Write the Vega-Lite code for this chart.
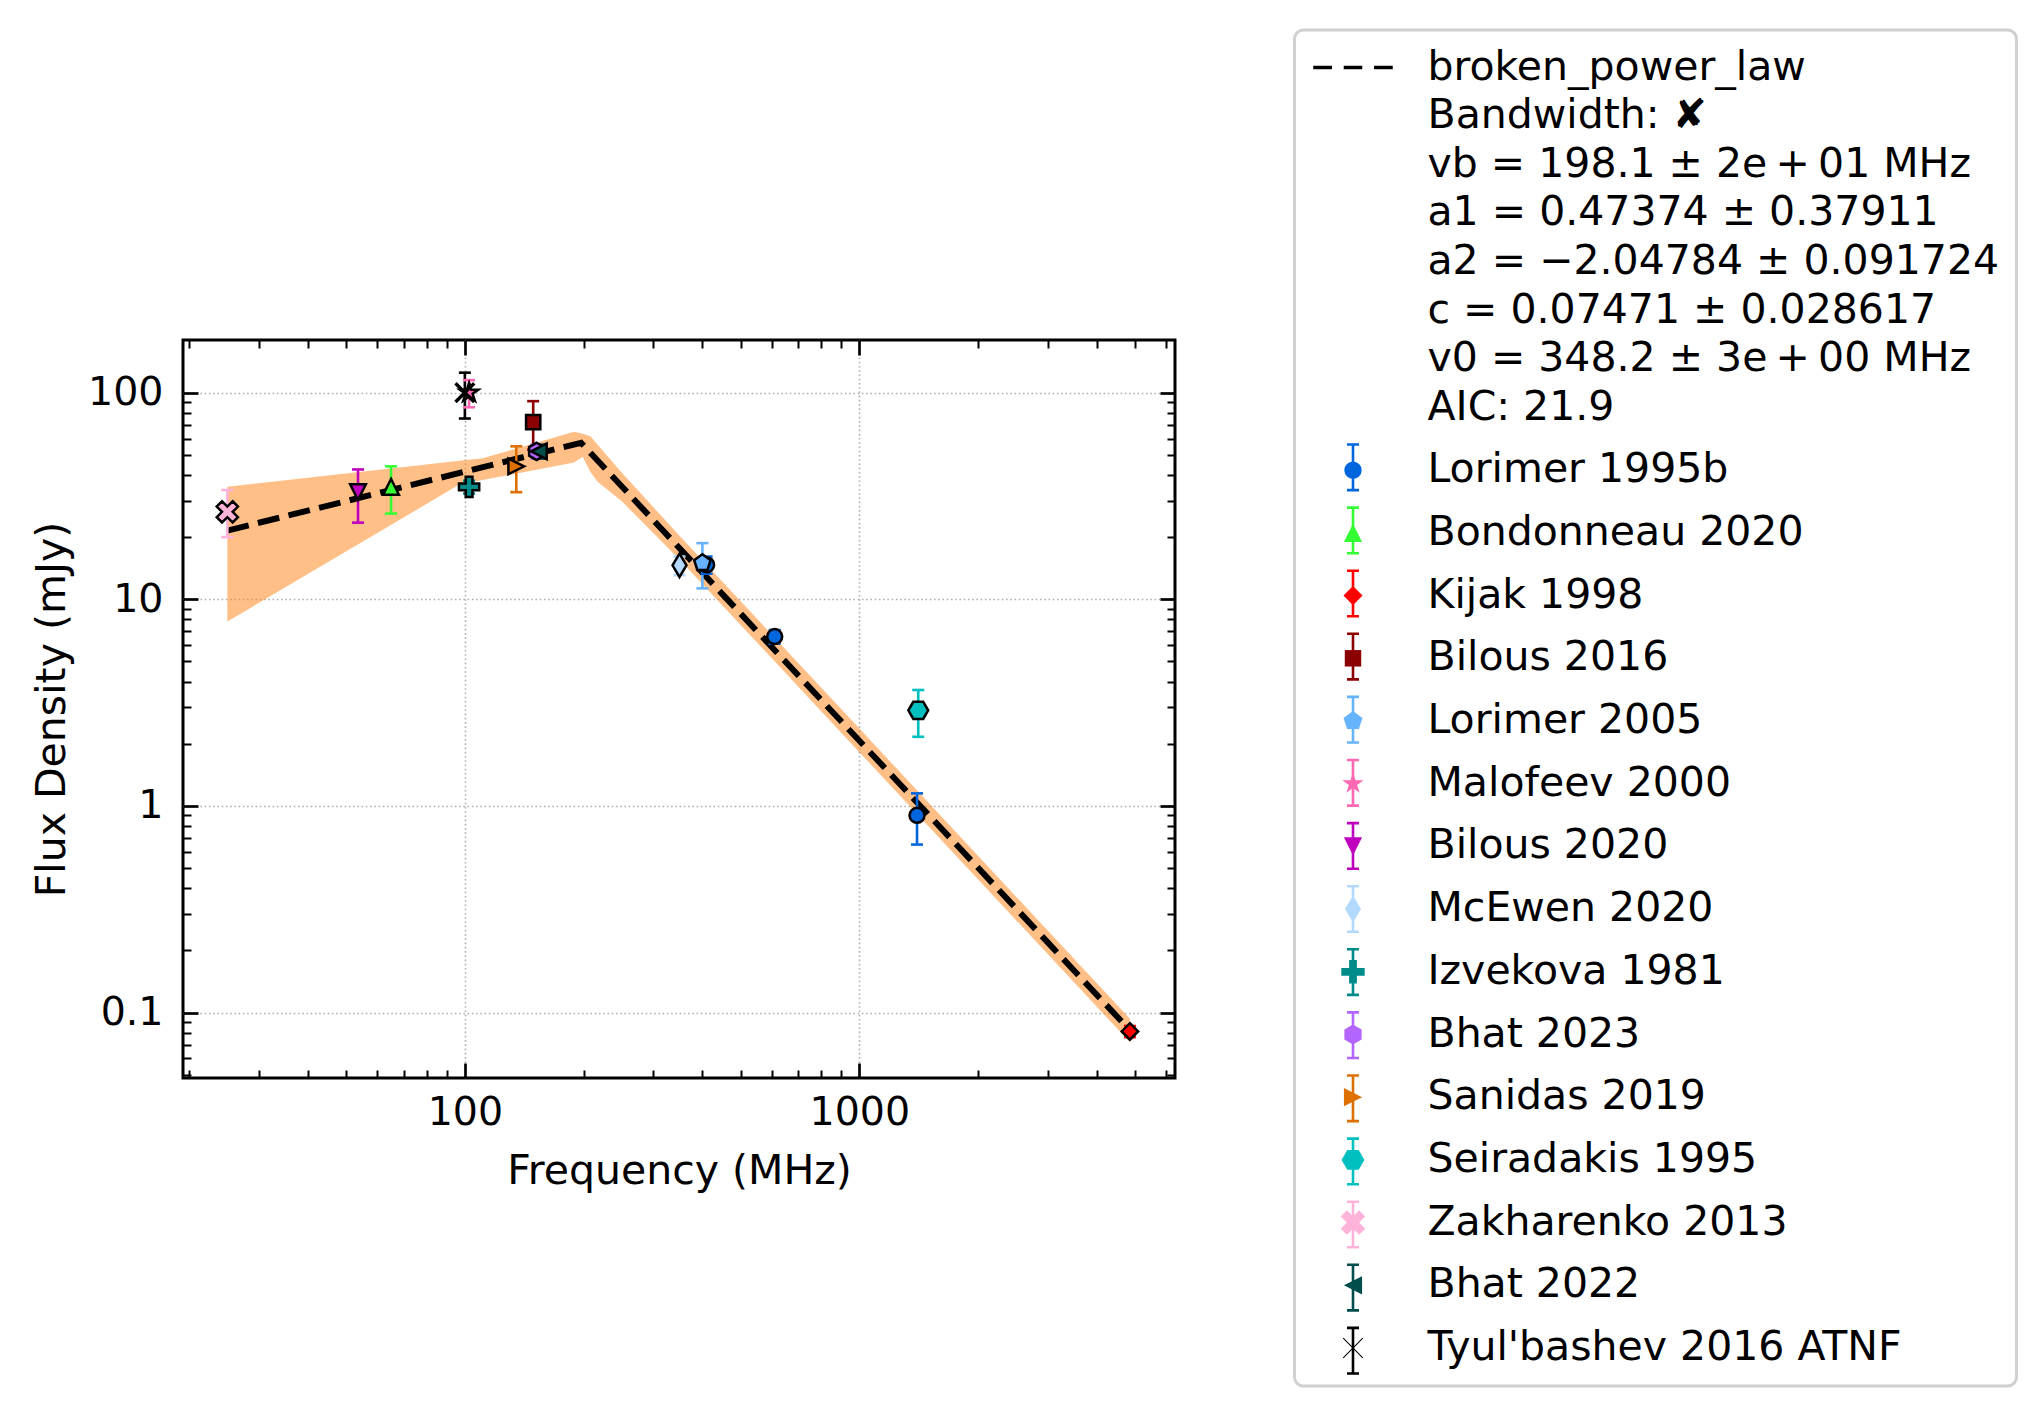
{
  "$schema": "https://vega.github.io/schema/vega-lite/v6.json",
  "autosize": {"type": "none"},
  "width": 992,
  "height": 738,
  "padding": {"left": 183, "top": 340, "right": 869, "bottom": 341},
  "background": "white",
  "config": {
    "font": "DejaVu Sans",
    "view": {"stroke": "black", "strokeWidth": 3},
    "style": {"guide-label": {"lineHeight": 48.6}},
    "legend": {"strokeWidth": 3},
    "axis": {"labelColor": "black", "titleColor": "black", "labelFont": "DejaVu Sans", "titleFont": "DejaVu Sans"}
  },
  "datasets": {
    "pts": [
      {"source": "Lorimer 1995b", "freq": 410, "flux": 14.7, "lo": 13.3, "hi": 16.1},
      {"source": "Lorimer 1995b", "freq": 610, "flux": 6.6, "lo": 6.1, "hi": 7.1},
      {"source": "Lorimer 1995b", "freq": 1400, "flux": 0.9, "lo": 0.65, "hi": 1.15},
      {"source": "Bondonneau 2020", "freq": 65, "flux": 35, "lo": 26, "hi": 44},
      {"source": "Kijak 1998", "freq": 4850, "flux": 0.081, "lo": 0.076, "hi": 0.086},
      {"source": "Bilous 2016", "freq": 149, "flux": 72, "lo": 53, "hi": 91},
      {"source": "Lorimer 2005", "freq": 400, "flux": 15, "lo": 11.3, "hi": 18.7},
      {"source": "Malofeev 2000", "freq": 102.5, "flux": 100, "lo": 85, "hi": 115},
      {"source": "Bilous 2020", "freq": 53.6, "flux": 33, "lo": 23.5, "hi": 42.5},
      {"source": "McEwen 2020", "freq": 350, "flux": 14.6, "lo": 13.1, "hi": 16.1},
      {"source": "Izvekova 1981", "freq": 102.5, "flux": 35, "lo": 32.5, "hi": 37.5},
      {"source": "Bhat 2023", "freq": 152, "flux": 52, "lo": 48, "hi": 56},
      {"source": "Sanidas 2019", "freq": 135, "flux": 44, "lo": 33, "hi": 55},
      {"source": "Seiradakis 1995", "freq": 1410, "flux": 2.9, "lo": 2.16, "hi": 3.64},
      {"source": "Zakharenko 2013", "freq": 25, "flux": 26.5, "lo": 20, "hi": 33.8},
      {"source": "Bhat 2022", "freq": 154, "flux": 52, "lo": 48, "hi": 56},
      {"source": "Tyul'bashev 2016 ATNF", "freq": 100, "flux": 100, "lo": 75, "hi": 125}
    ],
    "fit": [
      {"freq": 25, "flux": 21.5},
      {"freq": 197, "flux": 57.2},
      {"freq": 4850, "flux": 0.082}
    ],
    "band": [
      {"freq": 25, "lower": 7.8, "upper": 35.1},
      {"freq": 97, "lower": 36.0, "upper": 46.8},
      {"freq": 111, "lower": 37.8, "upper": 48.1},
      {"freq": 189, "lower": 45.9, "upper": 64.7},
      {"freq": 199, "lower": 49.0, "upper": 63.3},
      {"freq": 208, "lower": 41.3, "upper": 61.6},
      {"freq": 217, "lower": 37.1, "upper": 56.0},
      {"freq": 250, "lower": 29.8, "upper": 41.0},
      {"freq": 350, "lower": 15.6, "upper": 20.3},
      {"freq": 1000, "lower": 1.82, "upper": 2.37},
      {"freq": 4850, "lower": 0.0718, "upper": 0.0933}
    ]
  },
  "resolve": {"axis": {"x": "independent", "y": "independent"}},
  "layer": [
    {
      "data": {"name": "band"},
      "mark": {"type": "area", "color": "#ff7f0e", "opacity": 0.5},
      "encoding": {
        "x": {
          "field": "freq", "type": "quantitative",
          "scale": {"type": "log", "domain": [19.3, 6310], "nice": false},
          "axis": {
            "orient": "bottom", "values": [100, 1000], "format": "~g",
            "ticks": false, "domain": false, "labelFlush": false, "labelOverlap": false,
            "labelFontSize": 39.5, "labelPadding": 15,
            "grid": true, "gridColor": "#b0b0b0", "gridDash": [1.6, 2.64], "gridWidth": 1.6,
            "title": "Frequency (MHz)", "titleFontSize": 41, "titleFontWeight": "normal",
            "titleX": 496, "titleY": 105, "titleAlign": "center", "titleBaseline": "alphabetic"
          }
        },
        "y": {
          "field": "lower", "type": "quantitative",
          "scale": {"type": "log", "domain": [0.0482, 179.9], "nice": false},
          "axis": {
            "orient": "left", "values": [0.1, 1, 10, 100], "format": "~g",
            "ticks": false, "domain": false, "labelFlush": false, "labelOverlap": false,
            "labelFontSize": 39.5, "labelPadding": 20,
            "grid": true, "gridColor": "#b0b0b0", "gridDash": [1.6, 2.64], "gridWidth": 1.6,
            "title": "Flux Density (mJy)", "titleFontSize": 41, "titleFontWeight": "normal",
            "titleX": -118.5, "titleY": 369, "titleAngle": 270, "titleAlign": "center", "titleBaseline": "alphabetic"
          }
        },
        "y2": {"field": "upper"}
      }
    },
    {
      "data": {"name": "fit"},
      "mark": {"type": "line", "color": "black", "strokeWidth": 6, "strokeDash": [22, 9.5], "strokeCap": "butt"},
      "encoding": {
        "x": {
          "field": "freq", "type": "quantitative",
          "axis": {"orient": "bottom", "values": [100, 1000], "labels": false, "grid": false, "domain": false, "title": null,
                   "ticks": true, "tickSize": -15, "tickWidth": 2.7, "tickColor": "black"}
        },
        "y": {
          "field": "flux", "type": "quantitative",
          "axis": {"orient": "left", "values": [0.1, 1, 10, 100], "labels": false, "grid": false, "domain": false, "title": null,
                   "ticks": true, "tickSize": -15, "tickWidth": 2.7, "tickColor": "black"}
        }
      }
    },
    {
      "data": {"name": "pts"},
      "mark": {"type": "rule", "strokeWidth": 2.6},
      "encoding": {
        "x": {
          "field": "freq", "type": "quantitative",
          "axis": {"orient": "bottom", "values": [20, 30, 40, 50, 60, 70, 80, 90, 200, 300, 400, 500, 600, 700, 800, 900, 2000, 3000, 4000, 5000, 6000],
                   "labels": false, "grid": false, "domain": false, "title": null,
                   "ticks": true, "tickSize": -8, "tickWidth": 2, "tickColor": "black"}
        },
        "y": {
          "field": "lo", "type": "quantitative",
          "axis": {"orient": "left", "values": [0.05, 0.06, 0.07, 0.08, 0.09, 0.2, 0.3, 0.4, 0.5, 0.6, 0.7, 0.8, 0.9, 2, 3, 4, 5, 6, 7, 8, 9, 20, 30, 40, 50, 60, 70, 80, 90],
                   "labels": false, "grid": false, "domain": false, "title": null,
                   "ticks": true, "tickSize": -8, "tickWidth": 2, "tickColor": "black"}
        },
        "y2": {"field": "hi"},
        "stroke": {
          "field": "source", "type": "nominal",
          "sort": ["Lorimer 1995b", "Bondonneau 2020", "Kijak 1998", "Bilous 2016", "Lorimer 2005", "Malofeev 2000", "Bilous 2020", "McEwen 2020", "Izvekova 1981", "Bhat 2023", "Sanidas 2019", "Seiradakis 1995", "Zakharenko 2013", "Bhat 2022", "Tyul'bashev 2016 ATNF"],
          "scale": {"range": ["#0066dd", "#33ff33", "#ff0000", "#8b0000", "#66b3ff", "#ff69b4", "#bf00bf", "#b3d9ff", "#008b8b", "#b266ff", "#dd7000", "#00bfbf", "#ffb3d9", "#004d4d", "black"]},
          "legend": {
            "orient": "none", "legendX": 1111.5, "legendY": 89.8, "direction": "vertical", "columns": 1,
            "title": null, "padding": 17, "rowPadding": 6.1,
            "symbolType": "M0,-3.04V3.04M-0.8,-3.04H0.8M-0.8,3.04H0.8",
            "symbolSize": 225, "symbolStrokeWidth": 2.6, "symbolFillColor": "transparent", "symbolOpacity": 1,
            "symbolOffset": 21, "labelOffset": 54, "labelFontSize": 41, "labelExpr": "''", "labelLimit": 2000,
            "zindex": 1
          }
        }
      }
    },
    {
      "data": {"name": "pts"},
      "mark": {"type": "point", "shape": "M-1,0H1", "size": 144, "strokeWidth": 2.6, "filled": false, "opacity": 1},
      "encoding": {
        "x": {
          "field": "freq", "type": "quantitative",
          "axis": {"orient": "top", "values": [100, 1000], "labels": false, "grid": false, "domain": false, "title": null,
                   "ticks": true, "tickSize": -15, "tickWidth": 2.7, "tickColor": "black"}
        },
        "y": {
          "field": "lo", "type": "quantitative",
          "axis": {"orient": "right", "values": [0.1, 1, 10, 100], "labels": false, "grid": false, "domain": false, "title": null,
                   "ticks": true, "tickSize": -15, "tickWidth": 2.7, "tickColor": "black"}
        },
        "stroke": {
          "field": "source", "type": "nominal",
          "sort": ["Lorimer 1995b", "Bondonneau 2020", "Kijak 1998", "Bilous 2016", "Lorimer 2005", "Malofeev 2000", "Bilous 2020", "McEwen 2020", "Izvekova 1981", "Bhat 2023", "Sanidas 2019", "Seiradakis 1995", "Zakharenko 2013", "Bhat 2022", "Tyul'bashev 2016 ATNF"]
        }
      }
    },
    {
      "data": {"name": "pts"},
      "mark": {"type": "point", "shape": "M-1,0H1", "size": 144, "strokeWidth": 2.6, "filled": false, "opacity": 1},
      "encoding": {
        "x": {
          "field": "freq", "type": "quantitative",
          "axis": {"orient": "top", "values": [20, 30, 40, 50, 60, 70, 80, 90, 200, 300, 400, 500, 600, 700, 800, 900, 2000, 3000, 4000, 5000, 6000],
                   "labels": false, "grid": false, "domain": false, "title": null,
                   "ticks": true, "tickSize": -8, "tickWidth": 2, "tickColor": "black"}
        },
        "y": {
          "field": "hi", "type": "quantitative",
          "axis": {"orient": "right", "values": [0.05, 0.06, 0.07, 0.08, 0.09, 0.2, 0.3, 0.4, 0.5, 0.6, 0.7, 0.8, 0.9, 2, 3, 4, 5, 6, 7, 8, 9, 20, 30, 40, 50, 60, 70, 80, 90],
                   "labels": false, "grid": false, "domain": false, "title": null,
                   "ticks": true, "tickSize": -8, "tickWidth": 2, "tickColor": "black"}
        },
        "stroke": {
          "field": "source", "type": "nominal",
          "sort": ["Lorimer 1995b", "Bondonneau 2020", "Kijak 1998", "Bilous 2016", "Lorimer 2005", "Malofeev 2000", "Bilous 2020", "McEwen 2020", "Izvekova 1981", "Bhat 2023", "Sanidas 2019", "Seiradakis 1995", "Zakharenko 2013", "Bhat 2022", "Tyul'bashev 2016 ATNF"]
        }
      }
    },
    {
      "data": {"name": "pts"},
      "mark": {"type": "point", "filled": true, "stroke": "black", "strokeWidth": 2.5, "size": 225, "opacity": 1},
      "encoding": {
        "x": {"field": "freq", "type": "quantitative", "axis": null},
        "y": {"field": "flux", "type": "quantitative", "axis": null},
        "shape": {
          "field": "source", "type": "nominal",
          "scale": {
            "domain": ["broken_power_law", "Lorimer 1995b", "Bondonneau 2020", "Kijak 1998", "Bilous 2016", "Lorimer 2005", "Malofeev 2000", "Bilous 2020", "McEwen 2020", "Izvekova 1981", "Bhat 2023", "Sanidas 2019", "Seiradakis 1995", "Zakharenko 2013", "Bhat 2022", "Tyul'bashev 2016 ATNF"],
            "range": [
              "M-4.59,-0.2H-2.43V0.2H-4.59ZM-1.07,-0.2H1.07V0.2H-1.07ZM2.43,-0.2H4.59V0.2H2.43Z",
              "circle",
              "M0,-1.05L1.05,1.05L-1.05,1.05Z",
              "M0,-1.1L1.1,0L0,1.1L-1.1,0Z",
              "M-0.95,-0.95H0.95V0.95H-0.95Z",
              "M0,-1.15L1.094,-0.355L0.676,0.93L-0.676,0.93L-1.094,-0.355Z",
              "M0,-1.3L0.292,-0.402L1.236,-0.402L0.473,0.154L0.764,1.052L0,0.497L-0.764,1.052L-0.473,0.154L-1.236,-0.402L-0.292,-0.402Z",
              "M0,1.05L1.05,-1.05L-1.05,-1.05Z",
              "M0,-1.55L0.93,0L0,1.55L-0.93,0Z",
              "M-0.45,-1.35H0.45V-0.45H1.35V0.45H0.45V1.35H-0.45V0.45H-1.35V-0.45H-0.45Z",
              "M0,-1.15L0.996,-0.575L0.996,0.575L0,1.15L-0.996,0.575L-0.996,-0.575Z",
              "M1.05,0L-1.05,-1.05L-1.05,1.05Z",
              "M1.32,0L0.66,1.143L-0.66,1.143L-1.32,0L-0.66,-1.143L0.66,-1.143Z",
              "M0.707,-1.414L1.414,-0.707L0.707,0L1.414,0.707L0.707,1.414L0,0.707L-0.707,1.414L-1.414,0.707L-0.707,0L-1.414,-0.707L-0.707,-1.414L0,-0.707Z",
              "M-1.05,0L1.05,-1.05L1.05,1.05Z",
              "M1.089,-1.174L1.174,-1.089L0.085,0L1.174,1.089L1.089,1.174L0,0.085L-1.089,1.174L-1.174,1.089L-0.085,0L-1.174,-1.089L-1.089,-1.174L0,-0.085Z"
            ]
          },
          "legend": {
            "orient": "none", "legendX": 1111.5, "legendY": -310, "direction": "vertical", "columns": 1,
            "title": null, "padding": 17, "rowPadding": 20.7,
            "symbolSize": 300, "symbolStrokeColor": "black", "symbolStrokeWidth": 2.5, "symbolOpacity": 1,
            "symbolOffset": 21, "labelOffset": 54, "labelFontSize": 41, "labelColor": "black", "labelLimit": 2000,
            "labelExpr": "datum.label == 'broken_power_law' ? ['broken_power_law', 'Bandwidth: ✘', 'vb = 198.1 ± 2e\u2009+\u200901 MHz', 'a1 = 0.47374 ± 0.37911', 'a2 = −2.04784 ± 0.091724', 'c = 0.07471 ± 0.028617', 'v0 = 348.2 ± 3e\u2009+\u200900 MHz', 'AIC: 21.9'] : datum.label",
            "strokeColor": "#d0d0d0", "cornerRadius": 9, "zindex": 2
          }
        },
        "fill": {
          "field": "source", "type": "nominal",
          "scale": {
            "domain": ["broken_power_law", "Lorimer 1995b", "Bondonneau 2020", "Kijak 1998", "Bilous 2016", "Lorimer 2005", "Malofeev 2000", "Bilous 2020", "McEwen 2020", "Izvekova 1981", "Bhat 2023", "Sanidas 2019", "Seiradakis 1995", "Zakharenko 2013", "Bhat 2022", "Tyul'bashev 2016 ATNF"],
            "range": ["black", "#0066dd", "#33ff33", "#ff0000", "#8b0000", "#66b3ff", "#ff69b4", "#bf00bf", "#b3d9ff", "#008b8b", "#b266ff", "#dd7000", "#00bfbf", "#ffb3d9", "#004d4d", "black"]
          },
          "legend": {
            "orient": "none", "legendX": 1111.5, "legendY": -310, "direction": "vertical", "columns": 1,
            "title": null, "padding": 17, "rowPadding": 20.7,
            "symbolSize": 300, "symbolStrokeColor": "black", "symbolStrokeWidth": 2.5, "symbolOpacity": 1,
            "symbolOffset": 21, "labelOffset": 54, "labelFontSize": 41, "labelColor": "black", "labelLimit": 2000,
            "labelExpr": "datum.label == 'broken_power_law' ? ['broken_power_law', 'Bandwidth: ✘', 'vb = 198.1 ± 2e\u2009+\u200901 MHz', 'a1 = 0.47374 ± 0.37911', 'a2 = −2.04784 ± 0.091724', 'c = 0.07471 ± 0.028617', 'v0 = 348.2 ± 3e\u2009+\u200900 MHz', 'AIC: 21.9'] : datum.label",
            "strokeColor": "#d0d0d0", "cornerRadius": 9, "zindex": 2
          }
        }
      }
    }
  ]
}
